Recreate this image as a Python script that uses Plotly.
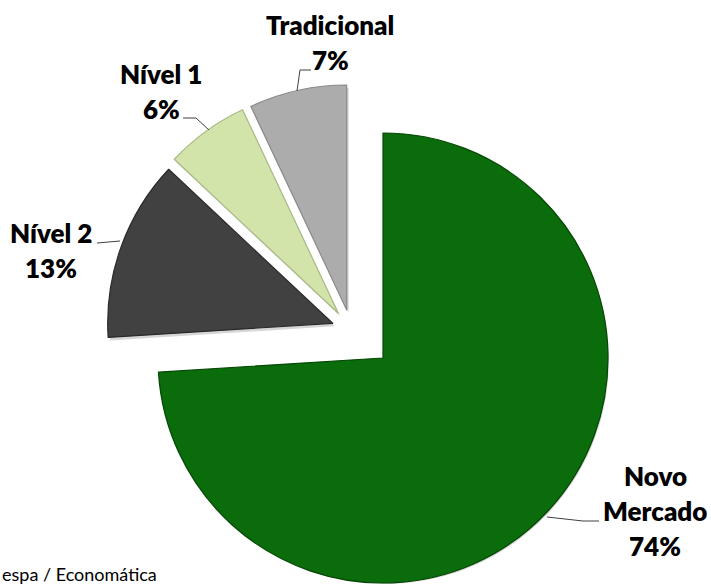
import plotly.graph_objects as go

# Listed companies by Bovespa listing segment (share of total, %)
segments = ["Novo Mercado", "Nível 2", "Nível 1", "Tradicional"]
shares = [74, 13, 6, 7]
colors = ["#0a6c0a", "#414141", "#d3e4ab", "#acacac"]
edge_colors = ["#054605", "#2a2a2a", "#a7bb84", "#8a8a8a"]
label_lines = [["Novo", "Mercado"], ["Nível 2"], ["Nível 1"], ["Tradicional"]]

W, H = 711, 584
R = 225  # slice radius in px
# wedge tip of each slice (px from top-left); the small segments are exploded
tips = [(383, 358), (332.7, 323.3), (338.3, 313.3), (346.7, 310)]
# centre of first label line, line spacing
label_pos = [(655, 476), (51, 233), (161, 74), (330, 25)]
LINE_GAP = 35
leaders = [
    [(599, 521), (583, 521), (547, 517)],
    [(97, 243), (120, 241)],
    [(183, 118), (196, 118), (209, 130)],
    [(311, 70), (300, 70), (297, 91)],
]

CLEAR = "rgba(0,0,0,0)"


def domain_for(cx, cy, r):
    return dict(
        x=[max(0, (cx - r) / W), min(1, (cx + r) / W)],
        y=[max(0, 1 - (cy + r) / H), min(1, 1 - (cy - r) / H)],
    )


def only(i, col):
    return [col if j == i else CLEAR for j in range(len(shares))]


fig = go.Figure()

# soft drop shadows
for i, (cx, cy) in enumerate(tips):
    fig.add_trace(go.Pie(
        labels=segments, values=shares, sort=False, direction="clockwise",
        rotation=0, domain=domain_for(cx + 2, cy + 3, R),
        marker=dict(colors=only(i, "rgba(0,0,0,0.16)"), line=dict(width=0)),
        textinfo="none", hoverinfo="skip", showlegend=False,
    ))

# slices
for i, (cx, cy) in enumerate(tips):
    fig.add_trace(go.Pie(
        labels=segments, values=shares, sort=False, direction="clockwise",
        rotation=0, domain=domain_for(cx, cy, R),
        marker=dict(colors=only(i, colors[i]),
                    line=dict(color=only(i, edge_colors[i]), width=1.2)),
        textinfo="none", hoverinfo="label+percent", showlegend=False,
    ))

# hidden pixel-space axes for labels and leader lines
fig.update_xaxes(range=[0, W], visible=False, fixedrange=True)
fig.update_yaxes(range=[H, 0], visible=False, fixedrange=True)

label_font = dict(family="Lato", size=26, color="#000000", weight=800)
for i in range(len(shares)):
    x, y0 = label_pos[i]
    lines = label_lines[i] + [f"{shares[i]}%"]
    for k, txt in enumerate(lines):
        fig.add_annotation(
            x=x, y=y0 + k * LINE_GAP, xref="x", yref="y", text=txt,
            showarrow=False, xanchor="center", yanchor="middle", font=label_font,
        )
    pts = leaders[i]
    path = "M " + " L ".join(f"{px},{py}" for px, py in pts)
    fig.add_shape(type="path", path=path, xref="x", yref="y",
                  line=dict(color="#404040", width=1))

fig.add_annotation(
    x=0, y=574, xref="paper", yref="y", text="espa / Economática", showarrow=False,
    xanchor="left", yanchor="middle",
    font=dict(family="Lato", size=18, color="#000000"),
)

fig.update_layout(
    width=W, height=H, margin=dict(l=0, r=0, t=0, b=0),
    paper_bgcolor="white", plot_bgcolor="white", showlegend=False,
)

fig.write_html("out.html")
